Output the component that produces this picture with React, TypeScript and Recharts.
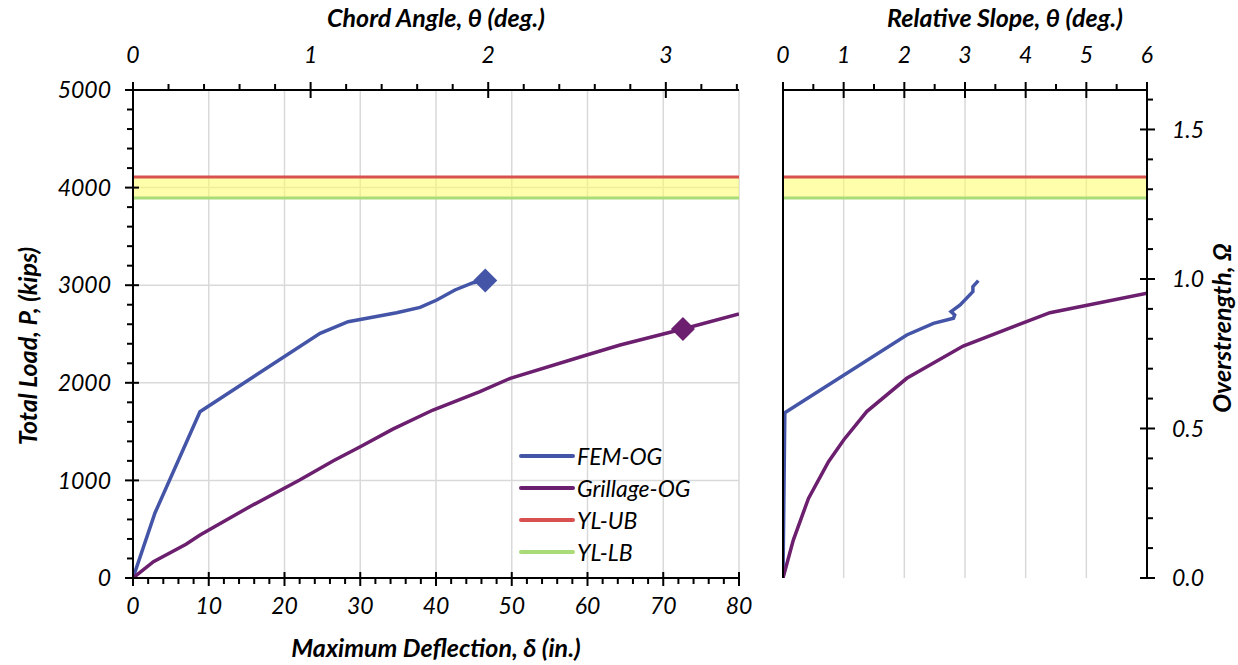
import React from "react";
import {
  ComposedChart,
  Line,
  Scatter,
  XAxis,
  YAxis,
  CartesianGrid,
  ReferenceArea,
  Legend,
} from "recharts";

const FONT = "Lato, 'Open Sans', sans-serif";

// left panel: maximum deflection (in.) vs total load (kips)
const femDefl = [0, 2.9, 8.84, 24.7, 28.4, 34.8, 37.9, 40.1, 42.5, 44.9, 46.5];
const femLoad = [0, 666, 1704, 2507, 2626, 2718, 2773, 2848, 2951, 3026, 3047];
const grilDefl = [0, 2.7, 7.0, 8.85, 15.4, 22, 26.4, 30, 34.3, 39.6, 45.8, 49.8, 59.9, 64.3, 72.6, 80];
const grilLoad = [0, 167, 345, 440, 730, 1004, 1199, 1345, 1525, 1721, 1909, 2046, 2285, 2387, 2551, 2705];
const femPeak = { defl: 46.5, load: 3047 };
const grilPeak = { defl: 72.6, load: 2551 };

// right panel: relative slope (deg.) vs total load (kips)
const femSlope = [0, 0.03, 2.04, 2.48, 2.81, 2.83, 2.77, 2.92, 3.13, 3.13, 3.22];
const femSlopeLoad = [0, 1694, 2490, 2609, 2661, 2695, 2729, 2797, 2934, 2985, 3047];
const grilSlope = [0, 0.17, 0.42, 0.75, 1.0, 1.38, 2.04, 2.97, 4.4, 6.0];
const grilSlopeLoad = [0, 389, 816, 1192, 1414, 1705, 2046, 2377, 2718, 2917];

// yield load bounds (kips)
const ylUpper = 4108;
const ylLower = 3893;

const legendOrder = ["FEM-OG", "Grillage-OG", "YL-UB", "YL-LB"];

// axes
const deflDomain = [0, 80];
const chordDomain = [0, 3.412];
const slopeDomain = [0, 6];
const loadDomain = [0, 5000];
const omegaDomain = [0, 1.632];

const steps = (start: number, stop: number, step: number) => {
  const out: number[] = [];
  for (let v = start; v <= stop + 1e-9; v += step) out.push(+v.toFixed(3));
  return out;
};
const deflTicks = steps(0, 80, 2);
const chordTicks = steps(0, 3.4, 0.2);
const slopeTicks = steps(0, 6, 0.5);
const loadTicks = steps(0, 5000, 200);
const omegaTicks = steps(0, 1.6, 0.1);
const deflGrid = steps(0, 80, 10);
const slopeGrid = steps(0, 6, 1);
const loadGrid = steps(0, 5000, 1000);

const COLORS = {
  fem: "#4455a8",
  gril: "#6b1f6e",
  ub: "#d8504f",
  lb: "#a9dc78",
  band: "#ffff66",
  grid: "#d9d9d9",
};

const TICK_SIZE = 23;
const TITLE_SIZE = 25;

const isMult = (v: number, m: number) => Math.abs(v / m - Math.round(v / m)) < 1e-6;

type Side = "top" | "bottom" | "left" | "right";

function makeTick(side: Side, major: number, fmt: (v: number) => string, gap: number) {
  return (props: any) => {
    const { x, y, payload } = props;
    const v = payload.value;
    const big = isMult(v, major);
    let line: number[];
    let tx = x;
    let ty = y;
    let anchor: "start" | "middle" | "end" = "middle";
    if (side === "bottom") {
      line = big ? [x, y - 6, x, y + 8] : [x, y, x, y + 6];
      ty = y + gap;
    } else if (side === "top") {
      line = big ? [x, y - 8, x, y + 8] : [x, y - 6, x, y];
      ty = y - gap;
    } else if (side === "left") {
      line = big ? [x - 8, y, x + 6, y] : [x - 6, y, x, y];
      tx = x - gap;
      anchor = "end";
    } else {
      line = big ? [x - 7, y, x + 8, y] : [x, y, x + 6, y];
      tx = x + gap;
      anchor = "start";
    }
    return (
      <g>
        <line x1={line[0]} y1={line[1]} x2={line[2]} y2={line[3]} stroke="#000" strokeWidth={2} />
        {big && (
          <text
            x={tx}
            y={ty}
            dy="0.36em"
            textAnchor={anchor}
            fontFamily={FONT}
            fontStyle="italic"
            fontSize={TICK_SIZE}
            fill="#000"
          >
            {fmt(v)}
          </text>
        )}
      </g>
    );
  };
}

const titleStyle = {
  fontFamily: FONT,
  fontStyle: "italic" as const,
  fontWeight: 700,
  fontSize: TITLE_SIZE,
  fill: "#000",
};

const hTitle = (text: string, dy: number, dx = 0) => (props: any) => {
  const vb = props.viewBox;
  return (
    <text x={vb.x + vb.width / 2 + dx} y={vb.y + dy} textAnchor="middle" {...titleStyle}>
      {text}
    </text>
  );
};

const vTitle = (text: string, dx: number, shift: number) => (props: any) => {
  const vb = props.viewBox;
  const cx = vb.x + dx;
  const cy = vb.y + vb.height / 2 + shift;
  return (
    <text transform={`translate(${cx},${cy}) rotate(-90)`} textAnchor="middle" {...titleStyle}>
      {text}
    </text>
  );
};

const diamond = (color: string) => (p: any) =>
  (
    <path
      d={`M${p.cx},${p.cy - 12} L${p.cx + 12},${p.cy} L${p.cx},${p.cy + 12} L${p.cx - 12},${p.cy} Z`}
      fill={color}
    />
  );

const LegendBox = ({ payload }: any) => {
  const items = (payload || [])
    .filter((e: any) => e.type !== "none" && legendOrder.includes(e.value))
    .sort((a: any, b: any) => legendOrder.indexOf(a.value) - legendOrder.indexOf(b.value));
  return (
    <div style={{ fontFamily: FONT, fontStyle: "italic", fontSize: 23, color: "#000", lineHeight: "32px" }}>
      {items.map((e: any) => (
        <div key={e.value} style={{ display: "flex", alignItems: "center", height: 32 }}>
          <svg width={58} height={10}>
            <line x1={2} x2={54} y1={5} y2={5} stroke={e.color} strokeWidth={4} strokeLinecap="round" />
          </svg>
          <span>{e.value}</span>
        </div>
      ))}
    </div>
  );
};

const axisLine = { stroke: "#000", strokeWidth: 2 };

export default function App() {
  const femData = femDefl.map((d, i) => ({ d, p: femLoad[i] }));
  const grilData = grilDefl.map((d, i) => ({ d, p: grilLoad[i] }));
  // the upper bound line spans the chord-angle axis, the lower bound the deflection axis
  const ubData = chordDomain.map((c) => ({ c, p: ylUpper }));
  const lbData = deflDomain.map((d) => ({ d, p: ylLower }));

  const femSlopeData = femSlope.map((t, i) => ({ t, p: femSlopeLoad[i] }));
  const grilSlopeData = grilSlope.map((t, i) => ({ t, p: grilSlopeLoad[i] }));
  const ubSlope = slopeDomain.map((t) => ({ t, p: ylUpper }));
  const lbSlope = slopeDomain.map((t) => ({ t, p: ylLower }));

  return (
    <div style={{ position: "absolute", left: 0, top: 0, width: 1238, height: 665, background: "#fff" }}>
      <div style={{ position: "absolute", left: 0, top: 0 }}>
        <ComposedChart width={760} height={665} margin={{ top: 0, right: 21, bottom: 0, left: 0 }}>
          <CartesianGrid
            xAxisId="bottom"
            yAxisId="kips"
            stroke={COLORS.grid}
            strokeWidth={1.5}
            verticalValues={deflGrid}
            horizontalValues={loadGrid}
          />
          <ReferenceArea
            xAxisId="bottom"
            yAxisId="kips"
            y1={ylLower}
            y2={ylUpper}
            fill={COLORS.band}
            fillOpacity={0.55}
            stroke="none"
          />
          <XAxis
            xAxisId="bottom"
            dataKey="d"
            type="number"
            orientation="bottom"
            domain={deflDomain}
            ticks={deflTicks}
            interval={0}
            allowDataOverflow
            height={87}
            tickSize={0}
            tickMargin={0}
            tickLine={false}
            axisLine={axisLine}
            tick={makeTick("bottom", 10, (v) => String(v), 28)}
            label={hTitle("Maximum Deflection, δ (in.)", 79)}
          />
          <XAxis
            xAxisId="top"
            dataKey="c"
            type="number"
            orientation="top"
            domain={chordDomain}
            ticks={chordTicks}
            interval={0}
            allowDataOverflow
            height={90}
            tickSize={0}
            tickMargin={0}
            tickLine={false}
            axisLine={axisLine}
            tick={makeTick("top", 1, (v) => String(v), 35)}
            label={hTitle("Chord Angle, θ (deg.)", 27)}
          />
          <YAxis
            yAxisId="kips"
            dataKey="p"
            type="number"
            domain={loadDomain}
            ticks={loadTicks}
            interval={0}
            allowDataOverflow
            width={133}
            tickSize={0}
            tickMargin={0}
            tickLine={false}
            axisLine={axisLine}
            tick={makeTick("left", 1000, (v) => String(v), 22)}
            label={vTitle("Total Load, P, (kips)", 37, 12)}
          />
          <Line
            xAxisId="bottom"
            yAxisId="kips"
            data={femData}
            dataKey="p"
            name="FEM-OG"
            stroke={COLORS.fem}
            strokeWidth={3.5}
            dot={false}
            isAnimationActive={false}
          />
          <Line
            xAxisId="bottom"
            yAxisId="kips"
            data={grilData}
            dataKey="p"
            name="Grillage-OG"
            stroke={COLORS.gril}
            strokeWidth={3.5}
            dot={false}
            isAnimationActive={false}
          />
          <Line
            xAxisId="top"
            yAxisId="kips"
            data={ubData}
            dataKey="p"
            name="YL-UB"
            stroke={COLORS.ub}
            strokeWidth={3}
            dot={false}
            isAnimationActive={false}
          />
          <Line
            xAxisId="bottom"
            yAxisId="kips"
            data={lbData}
            dataKey="p"
            name="YL-LB"
            stroke={COLORS.lb}
            strokeWidth={3}
            dot={false}
            isAnimationActive={false}
          />
          <Scatter
            xAxisId="bottom"
            yAxisId="kips"
            data={[{ d: femPeak.defl, p: femPeak.load }]}
            dataKey="p"
            legendType="none"
            shape={diamond(COLORS.fem)}
            isAnimationActive={false}
          />
          <Scatter
            xAxisId="bottom"
            yAxisId="kips"
            data={[{ d: grilPeak.defl, p: grilPeak.load }]}
            dataKey="p"
            legendType="none"
            shape={diamond(COLORS.gril)}
            isAnimationActive={false}
          />
          <Legend
            layout="vertical"
            align="center"
            verticalAlign="middle"
            width={220}
            content={<LegendBox />}
            wrapperStyle={{ left: 519, top: 440 }}
          />
        </ComposedChart>
      </div>

      <div style={{ position: "absolute", left: 760, top: 0 }}>
        <ComposedChart width={478} height={665} margin={{ top: 0, right: 0, bottom: 87, left: 0 }}>
          <CartesianGrid
            xAxisId="top"
            yAxisId="kips"
            stroke={COLORS.grid}
            strokeWidth={1.5}
            verticalValues={slopeGrid}
            horizontalValues={loadGrid}
          />
          <ReferenceArea
            xAxisId="top"
            yAxisId="kips"
            y1={ylLower}
            y2={ylUpper}
            fill={COLORS.band}
            fillOpacity={0.55}
            stroke="none"
          />
          <XAxis
            xAxisId="top"
            dataKey="t"
            type="number"
            orientation="top"
            domain={slopeDomain}
            ticks={slopeTicks}
            interval={0}
            allowDataOverflow
            height={90}
            tickSize={0}
            tickMargin={0}
            tickLine={false}
            axisLine={axisLine}
            tick={makeTick("top", 1, (v) => String(v), 35)}
            label={hTitle("Relative Slope, θ (deg.)", 27, 40)}
          />
          <YAxis
            yAxisId="kips"
            dataKey="p"
            type="number"
            domain={loadDomain}
            ticks={loadGrid}
            allowDataOverflow
            width={23}
            tick={false}
            tickLine={false}
            axisLine={axisLine}
          />
          <YAxis
            yAxisId="omega"
            type="number"
            orientation="right"
            domain={omegaDomain}
            ticks={omegaTicks}
            interval={0}
            allowDataOverflow
            width={91}
            tickSize={0}
            tickMargin={0}
            tickLine={false}
            axisLine={axisLine}
            tick={makeTick("right", 0.5, (v) => v.toFixed(1), 25)}
            label={vTitle("Overstrength, Ω", 84, -6)}
          />
          <Line
            xAxisId="top"
            yAxisId="kips"
            data={ubSlope}
            dataKey="p"
            stroke={COLORS.ub}
            strokeWidth={3}
            dot={false}
            isAnimationActive={false}
          />
          <Line
            xAxisId="top"
            yAxisId="kips"
            data={lbSlope}
            dataKey="p"
            stroke={COLORS.lb}
            strokeWidth={3}
            dot={false}
            isAnimationActive={false}
          />
          <Line
            xAxisId="top"
            yAxisId="kips"
            data={femSlopeData}
            dataKey="p"
            stroke={COLORS.fem}
            strokeWidth={3.5}
            dot={false}
            isAnimationActive={false}
          />
          <Line
            xAxisId="top"
            yAxisId="kips"
            data={grilSlopeData}
            dataKey="p"
            stroke={COLORS.gril}
            strokeWidth={3.5}
            dot={false}
            isAnimationActive={false}
          />
        </ComposedChart>
      </div>
    </div>
  );
}
